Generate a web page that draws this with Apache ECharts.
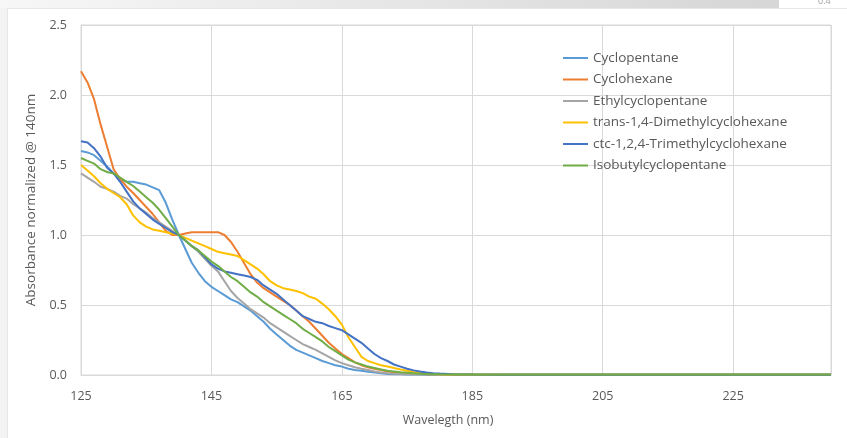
<!DOCTYPE html>
<html>
<head>
<meta charset="utf-8">
<script src="https://cdn.jsdelivr.net/npm/echarts@6/dist/echarts.min.js"></script>
<style>
  html, body { margin: 0; padding: 0; background: #ffffff; }
  #chart { width: 847px; height: 438px; }
</style>
</head>
<body>
<div id="chart"></div>
<script>
// Wavelength samples (nm)
const wavelength = [
  125, 126, 127, 128, 129, 130, 131, 132, 133, 134, 135, 136, 137, 138, 139,
  140, 141, 142, 143, 144, 145, 146, 147, 148, 149, 150, 151, 152, 153, 154,
  155, 156, 157, 158, 159, 160, 161, 162, 163, 164, 165, 166, 167, 168, 169,
  170, 171, 172, 173, 174, 175, 176, 177, 178, 179, 180,
  182, 185, 190, 200, 210, 220, 230, 240
];

// Absorbance normalized at 140 nm
const cyclopentane = [
  1.60, 1.59, 1.57, 1.53, 1.49, 1.44, 1.40, 1.38, 1.38, 1.37, 1.36, 1.34, 1.32, 1.23, 1.11,
  1.00, 0.90, 0.80, 0.73, 0.67, 0.63, 0.60, 0.57, 0.54, 0.52, 0.49, 0.46, 0.42, 0.38, 0.33,
  0.29, 0.25, 0.21, 0.18, 0.16, 0.14, 0.12, 0.10, 0.085, 0.07, 0.06, 0.045, 0.035, 0.03, 0.024,
  0.018, 0.012, 0.008, 0.006, 0.005, 0.004, 0.003, 0.003, 0.002, 0.002, 0.002,
  0.002, 0.002, 0.002, 0.002, 0.002, 0.002, 0.002, 0.002
];
const cyclohexane = [
  2.17, 2.09, 1.97, 1.79, 1.63, 1.47, 1.40, 1.345, 1.30, 1.25, 1.20, 1.15, 1.09, 1.03, 1.00,
  1.00, 1.01, 1.02, 1.02, 1.02, 1.02, 1.02, 1.00, 0.95, 0.88, 0.80, 0.72, 0.66, 0.62, 0.59,
  0.56, 0.53, 0.50, 0.46, 0.42, 0.38, 0.33, 0.28, 0.23, 0.19, 0.15, 0.12, 0.09, 0.07, 0.055,
  0.045, 0.035, 0.025, 0.02, 0.015, 0.012, 0.009, 0.007, 0.005, 0.004, 0.003,
  0.002, 0.002, 0.002, 0.002, 0.002, 0.002, 0.002, 0.002
];
const ethylcyclopentane = [
  1.44, 1.41, 1.38, 1.345, 1.33, 1.31, 1.28, 1.26, 1.22, 1.19, 1.16, 1.12, 1.09, 1.06, 1.03,
  1.00, 0.96, 0.92, 0.88, 0.83, 0.78, 0.74, 0.67, 0.60, 0.55, 0.51, 0.47, 0.44, 0.41, 0.37,
  0.34, 0.31, 0.28, 0.25, 0.22, 0.20, 0.18, 0.155, 0.13, 0.105, 0.085, 0.07, 0.055, 0.045, 0.036,
  0.025, 0.018, 0.012, 0.009, 0.007, 0.005, 0.004, 0.003, 0.003, 0.002, 0.002,
  0.002, 0.002, 0.002, 0.002, 0.002, 0.002, 0.002, 0.002
];
const transDimethylcyclohexane = [
  1.50, 1.46, 1.42, 1.37, 1.33, 1.30, 1.27, 1.22, 1.14, 1.09, 1.06, 1.04, 1.03, 1.02, 1.01,
  1.00, 0.98, 0.96, 0.94, 0.92, 0.90, 0.88, 0.87, 0.86, 0.85, 0.82, 0.79, 0.76, 0.72, 0.67,
  0.64, 0.62, 0.61, 0.60, 0.585, 0.56, 0.545, 0.51, 0.47, 0.42, 0.36, 0.27, 0.20, 0.13, 0.10,
  0.085, 0.07, 0.06, 0.05, 0.04, 0.03, 0.022, 0.016, 0.012, 0.008, 0.006,
  0.004, 0.002, 0.002, 0.002, 0.002, 0.002, 0.002, 0.002
];
const ctcTrimethylcyclohexane = [
  1.67, 1.66, 1.62, 1.56, 1.48, 1.44, 1.38, 1.31, 1.24, 1.19, 1.15, 1.11, 1.08, 1.05, 1.02,
  1.00, 0.96, 0.92, 0.89, 0.84, 0.79, 0.76, 0.74, 0.73, 0.72, 0.71, 0.70, 0.68, 0.64, 0.61,
  0.58, 0.54, 0.50, 0.46, 0.42, 0.40, 0.38, 0.37, 0.35, 0.335, 0.32, 0.29, 0.26, 0.23, 0.19,
  0.15, 0.12, 0.10, 0.075, 0.06, 0.045, 0.033, 0.025, 0.018, 0.013, 0.01,
  0.006, 0.003, 0.002, 0.002, 0.002, 0.002, 0.002, 0.002
];
const isobutylcyclopentane = [
  1.55, 1.53, 1.51, 1.47, 1.45, 1.44, 1.41, 1.38, 1.35, 1.31, 1.27, 1.23, 1.18, 1.12, 1.06,
  1.00, 0.96, 0.92, 0.89, 0.85, 0.81, 0.78, 0.74, 0.70, 0.67, 0.63, 0.59, 0.56, 0.52, 0.49,
  0.46, 0.43, 0.40, 0.37, 0.33, 0.30, 0.27, 0.24, 0.20, 0.17, 0.14, 0.11, 0.09, 0.075, 0.06,
  0.05, 0.04, 0.03, 0.025, 0.02, 0.016, 0.012, 0.009, 0.008, 0.006, 0.005,
  0.004, 0.003, 0.003, 0.003, 0.003, 0.003, 0.003, 0.003
];

const seriesNames = [
  'Cyclopentane',
  'Cyclohexane',
  'Ethylcyclopentane',
  'trans-1,4-Dimethylcyclohexane',
  'ctc-1,2,4-Trimethylcyclohexane',
  'Isobutylcyclopentane'
];
const seriesValues = [
  cyclopentane, cyclohexane, ethylcyclopentane,
  transDimethylcyclohexane, ctcTrimethylcyclohexane, isobutylcyclopentane
];
const seriesColors = ['#5B9BD5', '#ED7D31', '#A5A5A5', '#FFC000', '#4472C4', '#70AD47'];

// Axis ticks: 125, 145, ... so the x axis is laid out relative to its start
const xStart = 125;
const xEnd = 240;
const xStep = 20;

const textColor = '#595959';
const gridColor = '#d9d9d9';
const fontFamily = 'Open Sans, sans-serif';

const chart = echarts.init(document.getElementById('chart'), null, { renderer: 'canvas' });

const series = seriesNames.map((name, i) => ({
  name: name,
  type: 'line',
  showSymbol: false,
  symbol: 'none',
  smooth: false,
  lineStyle: { width: 2, color: seriesColors[i] },
  itemStyle: { color: seriesColors[i] },
  data: wavelength.map((w, k) => [w - xStart, seriesValues[i][k]]),
  z: 2 + i
}));

chart.setOption({
  backgroundColor: '#ffffff',
  animation: false,
  textStyle: { fontFamily: fontFamily },
  graphic: [
    // page strip on the left and shaded band along the top
    { type: 'rect', left: 0, top: 0, shape: { width: 7, height: 438 }, style: { fill: '#f3f3f3' }, silent: true, z: -10 },
    {
      type: 'rect', left: 0, top: 0, shape: { width: 779, height: 8 },
      style: {
        fill: new echarts.graphic.LinearGradient(0, 0, 1, 0, [
          { offset: 0, color: '#f7f7f7' },
          { offset: 1, color: '#d6d6d6' }
        ])
      },
      silent: true, z: -10
    },
    { type: 'line', shape: { x1: 7, y1: 8.5, x2: 847, y2: 8.5 }, style: { stroke: '#e6e6e6', lineWidth: 1 }, silent: true, z: -9 },
    { type: 'line', shape: { x1: 7.5, y1: 8, x2: 7.5, y2: 438 }, style: { stroke: '#e6e6e6', lineWidth: 1 }, silent: true, z: -9 },
    {
      type: 'text', left: 818, top: -3,
      style: { text: '0.4', fill: '#a0a0a0', font: '9px ' + fontFamily },
      silent: true
    }
  ],
  grid: {
    left: 81,
    right: 16,
    top: 25,
    bottom: 63,
    containLabel: false,
    show: true,
    borderColor: gridColor,
    borderWidth: 1
  },
  legend: {
    data: seriesNames,
    orient: 'vertical',
    left: 558,
    top: 45,
    icon: 'rect',
    itemWidth: 25,
    itemHeight: 2,
    itemGap: 5.5,
    textStyle: { color: textColor, fontSize: 13.5, lineHeight: 16, fontFamily: fontFamily }
  },
  xAxis: {
    type: 'value',
    min: 0,
    max: xEnd - xStart,
    interval: xStep,
    name: 'Wavelegth (nm)',
    nameLocation: 'middle',
    nameGap: 39,
    nameTextStyle: { color: textColor, fontSize: 12.5, fontFamily: fontFamily, padding: [0, 16, 0, 0] },
    axisLine: { show: true, lineStyle: { color: gridColor, width: 1 } },
    axisTick: { show: false },
    axisLabel: {
      color: textColor,
      fontSize: 12.5,
      margin: 15,
      showMaxLabel: false,
      formatter: v => String(v + xStart)
    },
    splitLine: { show: true, lineStyle: { color: gridColor, width: 1 } }
  },
  yAxis: {
    type: 'value',
    min: 0,
    max: 2.5,
    interval: 0.5,
    name: 'Absorbance normalized @ 140nm',
    nameLocation: 'middle',
    nameGap: 41,
    nameTextStyle: { color: textColor, fontSize: 13.5, fontFamily: fontFamily },
    axisLine: { show: true, lineStyle: { color: gridColor, width: 1 } },
    axisTick: { show: false },
    axisLabel: {
      color: textColor,
      fontSize: 12.5,
      margin: 14,
      formatter: v => v.toFixed(1)
    },
    splitLine: { show: true, lineStyle: { color: gridColor, width: 1 } }
  },
  series: series
});
</script>
</body>
</html>
